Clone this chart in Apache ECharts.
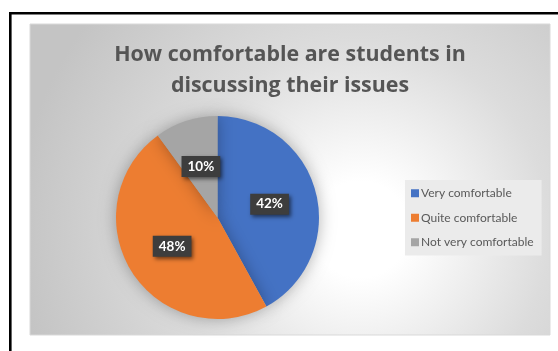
<!DOCTYPE html>
<html>
<head>
<meta charset="utf-8">
<script src="https://cdn.jsdelivr.net/npm/echarts@6/dist/echarts.min.js"></script>
<style>
  html, body { margin: 0; padding: 0; background: #ffffff; }
  #chart { width: 558px; height: 351px; }
</style>
</head>
<body>
<div id="chart"></div>
<script>
// Survey: comfort level of students when discussing their issues
const chartTitle = 'How comfortable are students in\ndiscussing their issues';
const categories = ['Very comfortable', 'Quite comfortable', 'Not very comfortable'];
const shares = [42, 48, 10];
const sliceColors = ['#4472C4', '#ED7D31', '#A5A5A5'];

const FONT = 'Lato, "Open Sans", sans-serif';
const TITLE_FONT = '"Open Sans", Lato, sans-serif';

const chart = echarts.init(document.getElementById('chart'), null, { renderer: 'canvas' });

const pieData = categories.map((name, i) => ({
  name: name,
  value: shares[i],
  itemStyle: { color: sliceColors[i] }
}));

chart.setOption({
  animation: false,
  backgroundColor: '#ffffff',
  color: sliceColors,
  graphic: [
    // outer frame (runs off the right and bottom edges)
    {
      type: 'rect', z: -10, silent: true,
      shape: { x: 10.3, y: 13.3, width: 700, height: 500 },
      style: { fill: 'none', stroke: '#000000', lineWidth: 2.6 }
    },
    // chart area with radial gradient fill
    {
      type: 'rect', z: -9, silent: true,
      shape: { x: 30, y: 24, width: 520, height: 311 },
      style: {
        fill: new echarts.graphic.RadialGradient(0.635, 0.66, 1.1, [
          { offset: 0, color: '#ffffff' },
          { offset: 0.14, color: '#ffffff' },
          { offset: 0.55, color: '#dcdcdc' },
          { offset: 1, color: '#c4c4c4' }
        ]),
        stroke: '#d9d9d9', lineWidth: 1
      }
    }
  ],
  title: {
    text: chartTitle,
    left: 290,
    top: 39,
    padding: 0,
    textAlign: 'center',
    textStyle: {
      fontFamily: TITLE_FONT,
      fontWeight: 'bold',
      fontSize: 21.4,
      lineHeight: 31,
      color: '#555555'
    }
  },
  legend: {
    orient: 'vertical',
    left: 405,
    top: 180,
    padding: [6, 8, 6, 6],
    backgroundColor: '#ebebeb',
    icon: 'rect',
    itemWidth: 8,
    itemHeight: 8,
    itemGap: 10,
    data: categories,
    selectedMode: false,
    textStyle: {
      fontFamily: FONT,
      fontSize: 12,
      lineHeight: 14.5,
      color: '#595959',
      padding: [0, 0, 0, -3]
    }
  },
  series: [
    {
      type: 'pie',
      center: [217.5, 217.5],
      radius: [0, 101.5],
      startAngle: 90,
      clockwise: true,
      silent: true,
      data: pieData,
      itemStyle: {
        shadowBlur: 16,
        shadowColor: 'rgba(0,0,0,0.3)'
      },
      labelLine: { show: false },
      label: {
        show: true,
        position: 'inside',
        formatter: '{c}%',
        fontFamily: FONT,
        fontWeight: 'bold',
        fontSize: 13.5,
        color: '#ffffff',
        backgroundColor: '#3d3d3d',
        padding: [4, 6, 3, 6],
        shadowColor: 'rgba(0,0,0,0.55)',
        shadowBlur: 4,
        shadowOffsetX: 2,
        shadowOffsetY: 2
      }
    }
  ]
});
</script>
</body>
</html>
